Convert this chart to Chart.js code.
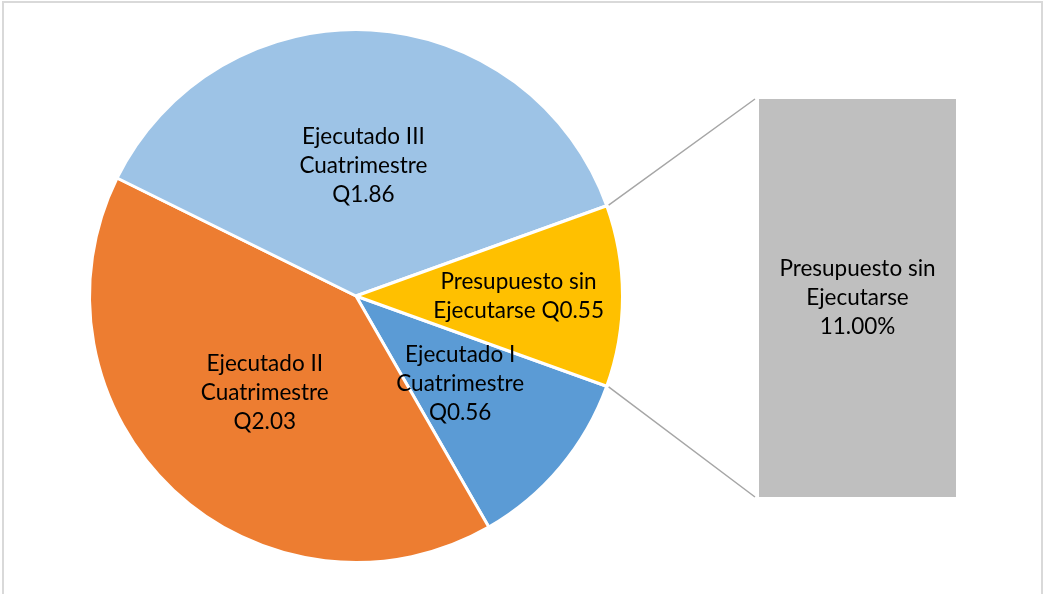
<!DOCTYPE html>
<html>
<head>
<meta charset="utf-8">
<script src="https://cdn.jsdelivr.net/npm/chart.js@4/dist/chart.umd.min.js"></script>
<style>
  html, body { margin: 0; padding: 0; background: #fff; }
  #wrap { position: relative; width: 1044px; height: 594px; overflow: hidden; }
  #frame { position: absolute; left: 2px; top: 1px; width: 1037px; height: 620px; border: 2px solid #d9d9d9; }
  canvas { position: absolute; left: 0; top: 0; }
</style>
</head>
<body>
<div id="wrap">
  <div id="frame"></div>
  <canvas id="pie" width="1044" height="594"></canvas>
  <canvas id="bar" width="1044" height="594"></canvas>
</div>
<script>
const categorias = ['Ejecutado I Cuatrimestre', 'Ejecutado II Cuatrimestre', 'Ejecutado III Cuatrimestre', 'Presupuesto sin Ejecutarse'];
const montos = [0.56, 2.03, 1.86, 0.55];
const nombresLineas = [
  ['Ejecutado I', 'Cuatrimestre'],
  ['Ejecutado II', 'Cuatrimestre'],
  ['Ejecutado III', 'Cuatrimestre'],
  ['Presupuesto sin', 'Ejecutarse'],
];
const barraLabels = ['Presupuesto sin Ejecutarse'];
const barraValores = [0.55];

const colores = ['#5B9BD5', '#ED7D31', '#9DC3E6', '#FFC000'];
const radioEtiqueta = [0.51, 0.5, 0.49, 0.61];
const FONT = '22.5px Lato, "Open Sans", sans-serif';
const total = montos.reduce((a, b) => a + b, 0);

const pieLabels = {
  id: 'pieLabels',
  afterDatasetsDraw(chart) {
    const ctx = chart.ctx;
    const arcs = chart.getDatasetMeta(0).data;
    ctx.save();
    ctx.font = FONT;
    ctx.fillStyle = '#000';
    ctx.textAlign = 'center';
    ctx.textBaseline = 'middle';
    arcs.forEach((arc, i) => {
      const { x, y, startAngle, endAngle, outerRadius } = arc.getProps(['x', 'y', 'startAngle', 'endAngle', 'outerRadius'], true);
      const mid = (startAngle + endAngle) / 2;
      const r = outerRadius * radioEtiqueta[i];
      const cx = x + Math.cos(mid) * r;
      const cy = y + Math.sin(mid) * r;
      const valor = 'Q' + montos[i].toFixed(2);
      let lineas;
      if (i === 3) lineas = [nombresLineas[i][0], nombresLineas[i][1] + ' ' + valor];
      else lineas = [...nombresLineas[i], valor];
      const lh = 29;
      lineas.forEach((t, k) => ctx.fillText(t, cx, cy + (k - (lineas.length - 1) / 2) * lh));
    });
    ctx.restore();
  },
};

const pieChart = new Chart(document.getElementById('pie'), {
  type: 'pie',
  data: { labels: categorias, datasets: [{ data: montos, backgroundColor: colores, borderColor: '#fff', borderWidth: 3 }] },
  options: {
    responsive: false,
    animation: false,
    rotation: 109.8,
    layout: { padding: { left: 88, right: 420, top: 28, bottom: 30 } },
    plugins: { legend: { display: false }, tooltip: { enabled: false } },
  },
  plugins: [pieLabels],
});

const conectores = {
  id: 'conectores',
  afterDatasetsDraw(chart) {
    const ctx = chart.ctx;
    const bar = chart.getDatasetMeta(0).data[0];
    const { x, y, base, width } = bar.getProps(['x', 'y', 'base', 'width'], true);
    const arc = pieChart.getDatasetMeta(0).data[3];
    const a = arc.getProps(['x', 'y', 'startAngle', 'endAngle', 'outerRadius'], true);
    const left = x - width / 2 - 4;
    ctx.save();
    ctx.strokeStyle = '#A6A6A6';
    ctx.lineWidth = 1.5;
    ctx.beginPath();
    ctx.moveTo(a.x + Math.cos(a.startAngle) * (a.outerRadius + 2), a.y + Math.sin(a.startAngle) * (a.outerRadius + 2));
    ctx.lineTo(left, y);
    ctx.moveTo(a.x + Math.cos(a.endAngle) * (a.outerRadius + 2), a.y + Math.sin(a.endAngle) * (a.outerRadius + 2));
    ctx.lineTo(left, base);
    ctx.stroke();

    ctx.font = FONT;
    ctx.fillStyle = '#000';
    ctx.textAlign = 'center';
    ctx.textBaseline = 'middle';
    const pct = (barraValores[0] / total * 100).toFixed(2) + '%';
    const lineas = ['Presupuesto sin', 'Ejecutarse', pct];
    const cy = (y + base) / 2;
    lineas.forEach((t, k) => ctx.fillText(t, x, cy + (k - 1) * 29));
    ctx.restore();
  },
};

new Chart(document.getElementById('bar'), {
  type: 'bar',
  data: { labels: barraLabels, datasets: [{ data: barraValores, backgroundColor: '#BFBFBF', categoryPercentage: 1, barPercentage: 1 }] },
  options: {
    responsive: false,
    animation: false,
    layout: { padding: { left: 759, right: 88, top: 99, bottom: 97 } },
    scales: {
      x: { display: false },
      y: { display: false, min: 0, max: barraValores[0] },
    },
    plugins: { legend: { display: false }, tooltip: { enabled: false } },
  },
  plugins: [conectores],
});
</script>
</body>
</html>
